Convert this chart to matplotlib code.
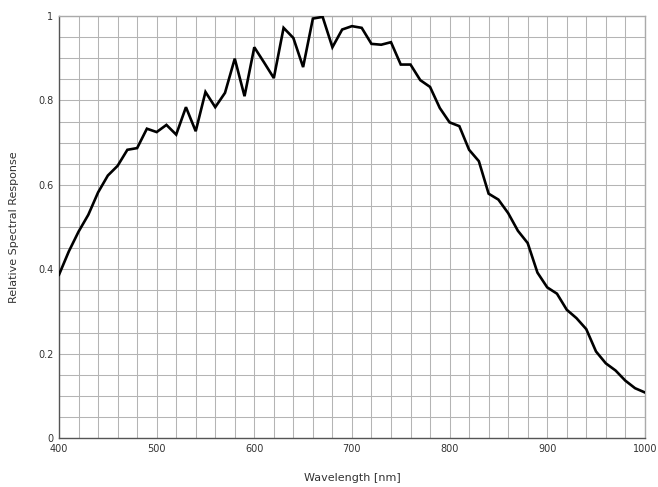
import matplotlib
matplotlib.use("Agg")
import matplotlib.pyplot as plt
import numpy as np

wavelength = list(range(400, 1001, 10))
response = [0.387, 0.442, 0.489, 0.529, 0.582, 0.622, 0.645, 0.683, 0.687, 0.733,
            0.725, 0.742, 0.719, 0.784, 0.727, 0.820, 0.784, 0.818, 0.899, 0.810,
            0.926, 0.890, 0.853, 0.972, 0.948, 0.879, 0.994, 0.998, 0.926, 0.968,
            0.976, 0.972, 0.934, 0.932, 0.938, 0.885, 0.885, 0.848, 0.832, 0.782,
            0.748, 0.739, 0.683, 0.656, 0.579, 0.565, 0.533, 0.491, 0.462, 0.392,
            0.357, 0.342, 0.304, 0.284, 0.258, 0.205, 0.177, 0.160, 0.136, 0.118,
            0.108]
x_ticks = [400, 500, 600, 700, 800, 900, 1000]
y_ticks = [0, 0.2, 0.4, 0.6, 0.8, 1]
y_tick_labels = ["0", "0.2", "0.4", "0.6", "0.8", "1"]

fig = plt.figure(figsize=(6.58, 4.87), dpi=100)
ax = fig.add_axes([0.0897, 0.1006, 0.8903, 0.8665])

ax.plot(wavelength, response, color="black", linewidth=1.9, solid_joinstyle="miter", zorder=3)

ax.set_xlim(400, 1000)
ax.set_ylim(0, 1)
ax.set_xticks(x_ticks)
ax.set_yticks(y_ticks)
ax.set_yticklabels(y_tick_labels)
ax.set_xticks(np.arange(400, 1001, 20), minor=True)
ax.set_yticks(np.arange(0, 1.001, 0.05), minor=True)
ax.grid(which="both", color="#b4b4b4", linewidth=0.75)
ax.set_axisbelow(True)
ax.tick_params(which="both", length=0, labelsize=7, colors="#333333", pad=4)

for side in ["top", "right"]:
    ax.spines[side].set_color("#aaaaaa")
    ax.spines[side].set_linewidth(1.0)
for side in ["left", "bottom"]:
    ax.spines[side].set_color("#555555")
    ax.spines[side].set_linewidth(1.0)

ax.set_xlabel("Wavelength [nm]", fontsize=8, color="#333333", labelpad=14)
ax.set_ylabel("Relative Spectral Response", fontsize=8, color="#333333", labelpad=14)

fig.savefig("out.png", dpi=100)
